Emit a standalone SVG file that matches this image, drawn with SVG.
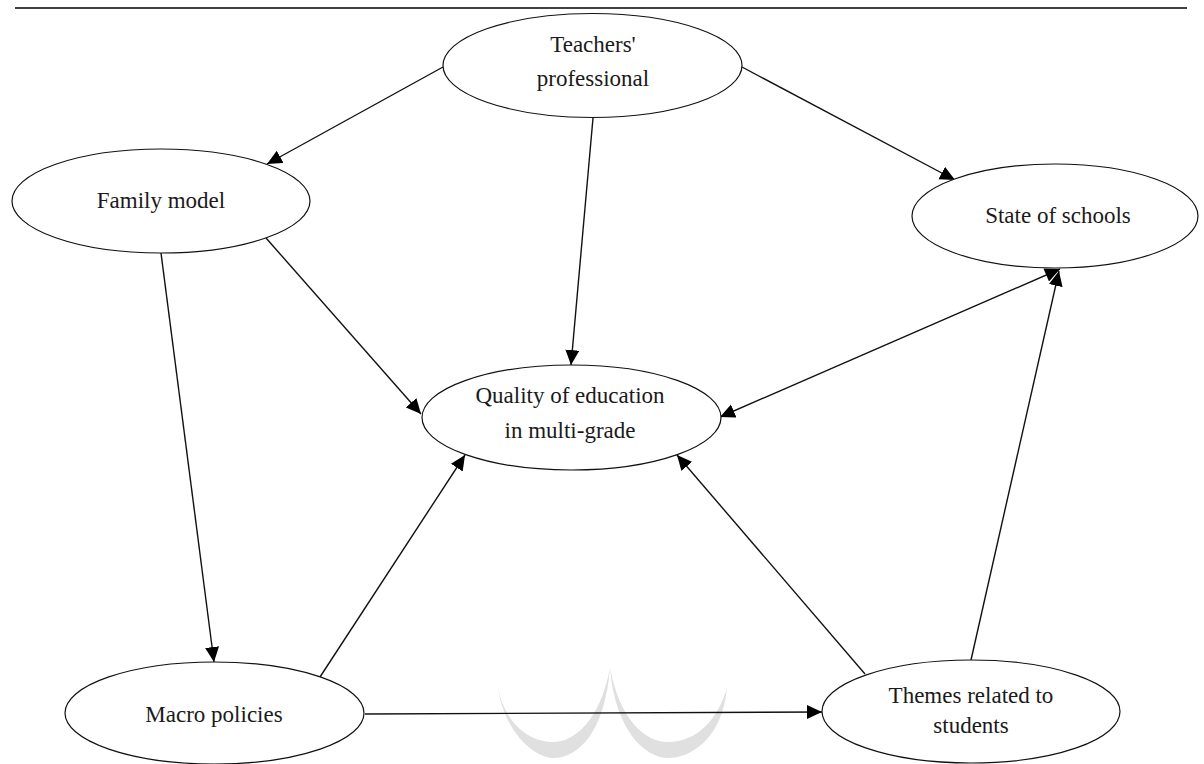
<svg xmlns="http://www.w3.org/2000/svg" width="1204" height="764" viewBox="0 0 1204 764">
<style>
.node ellipse{fill:#fff;stroke:#111;stroke-width:1.2}
.node text{font-family:"Liberation Serif","DejaVu Serif","Times New Roman",serif;font-size:23px;fill:#1a1a1a;text-anchor:middle}
.edge{stroke:#111;stroke-width:1.4;fill:none}
</style>
<defs>
<marker id="arr" markerUnits="userSpaceOnUse" markerWidth="16" markerHeight="15" refX="15" refY="7" orient="auto">
<path d="M0,0 L15,7 L0,14 z" fill="#000"/>
</marker>
<marker id="arrs" markerUnits="userSpaceOnUse" markerWidth="16" markerHeight="15" refX="0" refY="7" orient="auto">
<path d="M15,0 L0,7 L15,14 z" fill="#000"/>
</marker>
</defs>
<rect width="1204" height="764" fill="#fff"/>
<line x1="15" y1="8" x2="1187" y2="8" stroke="#000" stroke-width="1.6"/>
<g id="watermark" fill="#e0e0e0" stroke="none">
<path d="M497,683 C505,740 540,758 553,758 C580,758 605,730 610,668 C600,720 575,742 553,742 C535,742 505,730 497,683 z"/>
<path d="M610,668 C615,730 645,758 668,758 C690,758 722,740 727,688 C715,728 690,742 668,742 C645,742 620,720 610,668 z"/>
</g>
<g id="connectors">
<line class="edge" x1="443" y1="67" x2="267" y2="164" marker-end="url(#arr)"/>
<line class="edge" x1="593" y1="118" x2="571" y2="365" marker-end="url(#arr)"/>
<line class="edge" x1="742" y1="67" x2="955" y2="180" marker-end="url(#arr)"/>
<line class="edge" x1="266" y1="238" x2="421" y2="414" marker-end="url(#arr)"/>
<line class="edge" x1="161" y1="253" x2="214" y2="662" marker-end="url(#arr)"/>
<line class="edge" x1="1060" y1="269" x2="720" y2="417" marker-start="url(#arrs)" marker-end="url(#arr)"/>
<line class="edge" x1="971" y1="660" x2="1059" y2="271" marker-end="url(#arr)"/>
<line class="edge" x1="320" y1="677" x2="465" y2="455" marker-end="url(#arr)"/>
<line class="edge" x1="865" y1="674" x2="677" y2="455" marker-end="url(#arr)"/>
<line class="edge" x1="365" y1="714" x2="822" y2="712" marker-end="url(#arr)"/>
</g>
<g id="teachers" class="node">
<ellipse cx="592.5" cy="65.5" rx="149.5" ry="52"/>
<text x="593" y="52">Teachers'</text>
<text x="593" y="86">professional</text>
</g>
<g id="family" class="node">
<ellipse cx="161" cy="201" rx="149" ry="52"/>
<text x="161" y="208">Family model</text>
</g>
<g id="state" class="node">
<ellipse cx="1055" cy="216" rx="143" ry="52"/>
<text x="1058" y="223">State of schools</text>
</g>
<g id="quality" class="node">
<ellipse cx="571.5" cy="417.5" rx="149.5" ry="52.5"/>
<text x="570" y="403">Quality of education</text>
<text x="570" y="438">in multi-grade</text>
</g>
<g id="macro" class="node">
<ellipse cx="214.5" cy="713" rx="149.5" ry="51"/>
<text x="214" y="722">Macro policies</text>
</g>
<g id="themes" class="node">
<ellipse cx="971" cy="711.5" rx="149" ry="51.5"/>
<text x="971" y="703">Themes related to</text>
<text x="971" y="733">students</text>
</g>
</svg>
